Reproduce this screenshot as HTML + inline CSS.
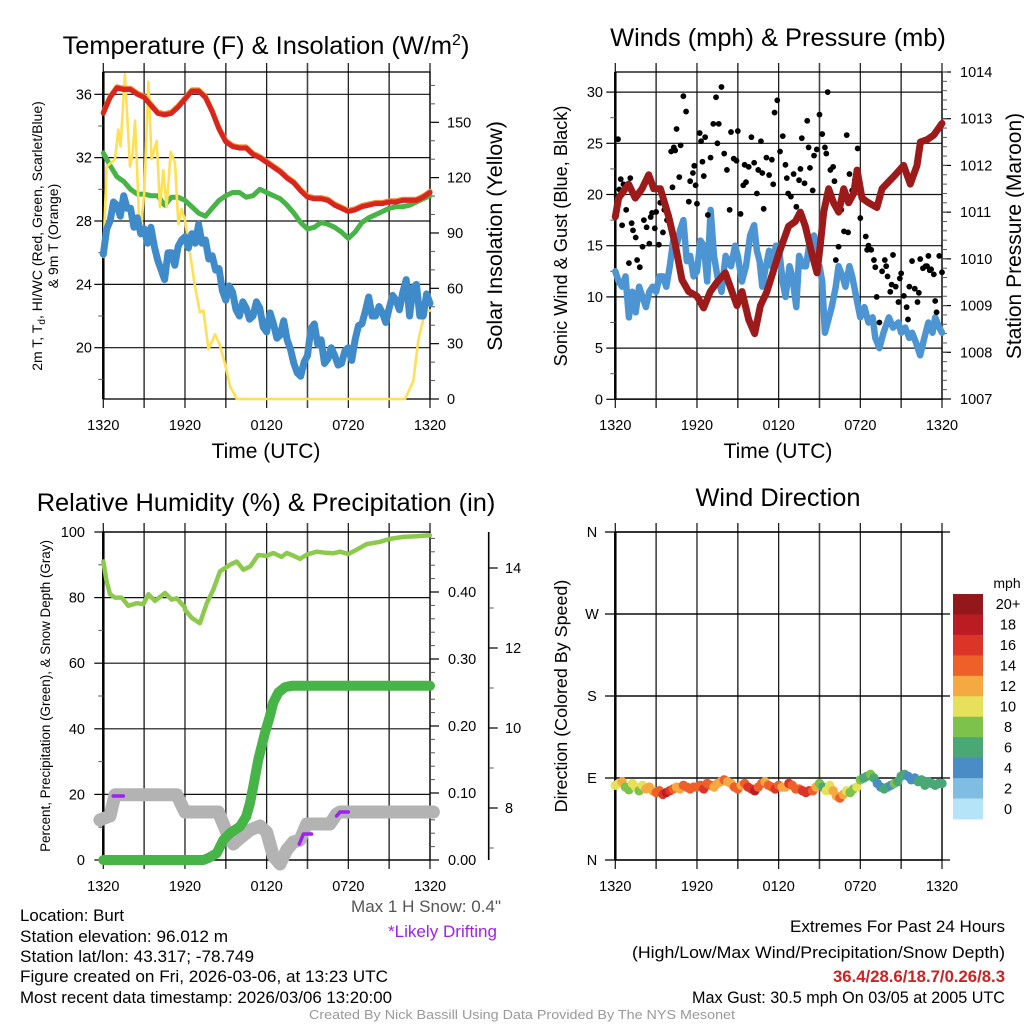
<!DOCTYPE html>
<html><head><meta charset="utf-8"><style>
body{margin:0;background:#fff}
svg{display:block;font-family:"Liberation Sans",Arial,sans-serif}
</style></head><body>
<svg id="s" width="1024" height="1024" viewBox="0 0 1024 1024" xmlns="http://www.w3.org/2000/svg">
<rect x="0" y="0" width="1024" height="1024" fill="#fff"/>
<g id="layer"></g>
<text x="266" y="54" font-size="25.4" text-anchor="middle">Temperature (F) &amp; Insolation (W/m<tspan dy="-9" font-size="16">2</tspan><tspan dy="9">)</tspan></text>
<text x="778" y="46" font-size="25.4" text-anchor="middle">Winds (mph) &amp; Pressure (mb)</text>
<text x="266" y="511" font-size="25.4" text-anchor="middle">Relative Humidity (%) &amp; Precipitation (in)</text>
<text x="778" y="506" font-size="25.4" text-anchor="middle">Wind Direction</text>
<text x="266" y="458" font-size="21" text-anchor="middle">Time (UTC)</text>
<text x="778" y="458" font-size="21" text-anchor="middle">Time (UTC)</text>
<text transform="translate(42,236) rotate(-90)" font-size="14" text-anchor="middle">2m T, T<tspan dy="3" font-size="10">d</tspan><tspan dy="-3">, HI/WC (Red, Green, Scarlet/Blue)</tspan></text>
<text transform="translate(58,236) rotate(-90)" font-size="14" text-anchor="middle">&amp; 9m T (Orange)</text>
<text transform="translate(502,236) rotate(-90)" font-size="21.5" text-anchor="middle">Solar Insolation (Yellow)</text>
<text transform="translate(567,236) rotate(-90)" font-size="18.2" text-anchor="middle">Sonic Wind &amp; Gust (Blue, Black)</text>
<text transform="translate(1021,236) rotate(-90)" font-size="21" text-anchor="middle">Station Pressure (Maroon)</text>
<text transform="translate(50,696) rotate(-90)" font-size="13.4" text-anchor="middle">Percent, Precipitation (Green), &amp; Snow Depth (Gray)</text>
<text transform="translate(567,696) rotate(-90)" font-size="17.9" text-anchor="middle">Direction (Colored By Speed)</text>
<text x="1007" y="588" font-size="14" text-anchor="middle">mph</text>
<g font-size="16.5">
<text x="20" y="921" textLength="104" lengthAdjust="spacingAndGlyphs">Location: Burt</text>
<text x="20" y="942" textLength="208" lengthAdjust="spacingAndGlyphs">Station elevation: 96.012 m</text>
<text x="20" y="962" textLength="234" lengthAdjust="spacingAndGlyphs">Station lat/lon: 43.317; -78.749</text>
<text x="20" y="982" textLength="368" lengthAdjust="spacingAndGlyphs">Figure created on Fri, 2026-03-06, at 13:23 UTC</text>
<text x="20" y="1003" textLength="372" lengthAdjust="spacingAndGlyphs">Most recent data timestamp: 2026/03/06 13:20:00</text>
</g>
<text x="351" y="912" font-size="16.5" fill="#555" textLength="150" lengthAdjust="spacingAndGlyphs">Max 1 H Snow: 0.4"</text>
<text x="388" y="937" font-size="16.5" fill="#a020f0" textLength="109" lengthAdjust="spacingAndGlyphs">*Likely Drifting</text>
<g font-size="17">
<text x="790" y="932" textLength="215" lengthAdjust="spacingAndGlyphs">Extremes For Past 24 Hours</text>
<text x="632" y="958" textLength="373" lengthAdjust="spacingAndGlyphs">(High/Low/Max Wind/Precipitation/Snow Depth)</text>
<text x="833" y="982" fill="#cc2222" font-weight="bold" textLength="172" lengthAdjust="spacingAndGlyphs">36.4/28.6/18.7/0.26/8.3</text>
<text x="692" y="1003" textLength="313" lengthAdjust="spacingAndGlyphs">Max Gust: 30.5 mph On 03/05 at 2005 UTC</text>
</g>
<text x="309" y="1019" font-size="13" fill="#999" textLength="426" lengthAdjust="spacingAndGlyphs">Created By Nick Bassill Using Data Provided By The NYS Mesonet</text>
</svg>
<script>
// ---------- data ----------
const timeLabels = ["1320","1920","0120","0720","1320"];
const halfHours = [0,0.5,1,1.5,2,2.5,3,3.5,4,4.5,5,5.5,6,6.5,7,7.5,8,8.5,9,9.5,10,10.5,11,11.5,12,12.5,13,13.5,14,14.5,15,15.5,16,16.5,17,17.5,18,18.5,19,19.5,20,20.5,21,21.5,22,22.5,23,23.5,24];
const tempRed = [34.8,35.8,36.4,36.3,36.3,36.0,35.8,35.3,34.8,34.7,34.8,35.2,35.7,36.2,36.2,35.8,34.9,33.8,33.0,32.7,32.6,32.6,32.2,32.0,31.7,31.4,31.1,30.7,30.4,29.9,29.5,29.4,29.4,29.3,29.0,28.8,28.6,28.7,28.9,29.0,29.1,29.1,29.2,29.2,29.3,29.3,29.3,29.5,29.8];
const dewGreen = [32.3,31.5,30.8,30.5,30.0,29.7,29.7,29.6,29.6,29.0,29.5,29.5,29.3,28.9,28.5,28.3,28.8,29.3,29.6,29.8,29.8,29.5,29.6,30.0,29.8,29.6,29.4,29.0,28.5,27.9,27.5,27.6,27.9,27.8,27.6,27.3,26.9,27.3,27.9,28.2,28.4,28.6,28.8,28.9,28.9,29.0,29.2,29.4,29.6];
const chillT = [0,0.25,0.5,0.75,1,1.25,1.5,1.75,2,2.25,2.5,2.75,3,3.25,3.5,3.75,4,4.25,4.5,4.75,5,5.25,5.5,5.75,6,6.25,6.5,6.75,7,7.25,7.5,7.75,8,8.25,8.5,8.75,9,9.25,9.5,9.75,10,10.25,10.5,10.75,11,11.25,11.5,11.75,12,12.25,12.5,12.75,13,13.25,13.5,13.75,14,14.25,14.5,14.75,15,15.25,15.5,15.75,16,16.25,16.5,16.75,17,17.25,17.5,17.75,18,18.25,18.5,18.75,19,19.25,19.5,19.75,20,20.25,20.5,20.75,21,21.25,21.5,21.75,22,22.25,22.5,22.75,23,23.25,23.5,23.75,24];
const chillBlue = [25.9,27.5,28.0,29.2,29.0,28.3,29.6,28.8,28.8,27.6,28.2,27.2,27.5,26.6,27.6,26.4,25.5,24.9,24.3,26.0,26.0,25.2,26.4,26.8,27.0,26.3,27.2,26.6,27.8,26.6,26.8,25.6,25.8,24.9,25.0,23.6,23.0,23.9,23.5,22.4,22.0,22.9,22.5,21.8,22.0,22.9,22.5,21.3,21.0,22.2,21.5,20.6,20.8,21.7,20.5,19.9,19.0,18.4,18.2,19.1,19.5,21.2,21.5,20.2,20.5,19.0,19.3,20.0,19.5,18.9,19.0,19.8,20.0,19.2,20.5,21.4,21.5,22.3,23.2,22.0,22.0,22.6,22.2,21.6,22.5,23.3,23.0,22.4,23.5,24.3,22.0,23.8,24.0,22.0,22.0,23.4,22.8];
const solarT = [0,0.24,0.86,1.10,1.27,1.59,1.96,2.16,2.33,2.69,3.01,3.31,3.55,3.92,4.16,4.41,4.65,4.95,5.27,5.51,5.76,6.0,6.37,6.74,7.10,7.35,7.72,8.21,8.57,8.94,9.31,9.8,22.17,22.78,23.14,23.63,24];
const solarV = [77,126,130,146,137,176,126,133,151,88,112,172,130,140,104,124,104,134,128,95,103,97,79,61,47,48,27,35,29,19,7,0,0,10,32,47,48];
const windT = [0,0.25,0.5,0.75,1,1.25,1.5,1.75,2,2.25,2.5,2.75,3,3.25,3.5,3.75,4,4.25,4.5,4.75,5,5.25,5.5,5.75,6,6.25,6.5,6.75,7,7.25,7.5,7.8,8.1,8.5,8.8,9,9.3,9.6,9.9,10.2,10.4,10.6,10.8,11,11.3,11.5,11.8,12,12.3,12.5,12.8,13,13.3,13.5,13.8,14,14.3,14.6,14.8,15,15.2,15.4,15.7,15.9,16.2,16.4,16.7,16.9,17.2,17.4,17.7,18,18.3,18.6,18.9,19.1,19.4,19.7,20.1,20.4,20.8,21.0,21.3,21.6,21.8,22.1,22.4,22.7,23,23.3,23.5,23.8,24];
const windV = [12.5,11.5,11,12,8,10.5,8.5,11,10,9,10.5,11,10.5,12,12,11,13,15.5,15,16.5,17.5,13.5,14,12,12.5,15.5,15,11.5,18.5,14,12,10.5,14,13,15,14,11.5,13,16,17,14.5,13.5,11,12.5,14.5,13,15,15,11.5,10,13,12,9,14,13,13,15.5,16,13,13,11.5,6.5,8,9,11,13,12,11,13,12,10,8,9,7.5,8,6,5,6.5,8,7,7.5,6.5,7,6,6.5,5.5,4.3,6,7.5,6.5,8,7,6.5];
const presT = [0,0.24,0.98,1.47,1.96,2.45,2.82,3.31,3.92,4.41,4.9,5.39,6.0,6.49,6.98,7.47,8.08,8.45,8.94,9.31,9.8,10.24,10.66,11.14,12.0,12.73,13.22,13.59,13.96,14.45,14.82,15.06,15.31,15.67,16.04,16.41,16.78,17.14,17.51,17.76,18.12,18.61,19.22,19.59,20.08,20.57,21.18,21.67,22.16,22.41,22.9,23.39,23.76,24];
const presV = [1010.9,1011.3,1011.6,1011.3,1011.5,1011.8,1011.5,1011.5,1010.9,1010.3,1009.55,1009.3,1009.2,1008.95,1009.3,1009.5,1009.7,1009.4,1009.0,1009.3,1008.7,1008.4,1009.0,1009.3,1010.1,1010.7,1010.8,1011.0,1010.7,1010.1,1009.7,1010.3,1011.0,1011.5,1011.2,1011.0,1011.5,1011.2,1011.4,1011.9,1011.3,1011.2,1011.1,1011.5,1011.65,1011.8,1012.0,1011.6,1012.0,1012.5,1012.55,1012.65,1012.8,1012.9];
const gustT = [0.1,0.2,0.4,0.5,0.6,0.8,1.0,1.1,1.3,1.5,1.6,1.8,2.0,2.1,2.3,2.5,2.7,2.9,3.0,3.2,3.3,3.5,3.6,3.8,3.9,4.1,4.2,4.4,4.5,4.7,4.8,5.0,5.2,5.4,5.5,5.7,5.9,6.0,6.2,6.3,6.5,6.6,6.8,7.0,7.2,7.4,7.5,7.8,8.0,8.2,8.4,8.5,8.7,9.0,9.2,9.4,9.6,9.8,10.0,10.2,10.4,10.5,10.7,10.9,11.1,11.3,11.5,11.7,11.9,12.1,12.3,12.5,12.7,12.9,13.1,13.3,13.5,13.7,13.9,14.1,14.3,14.5,14.6,14.8,15.0,15.2,15.4,15.6,15.8,16.0,16.2,16.4,16.6,16.8,17.0,17.2,17.4,17.6,17.8,18.0,18.2,18.4,18.6,18.8,19.0,19.2,19.4,19.6,19.8,20.0,20.2,20.4,20.6,20.8,21.0,21.2,21.4,21.6,21.8,22.0,22.2,22.4,22.6,22.8,23.0,23.2,23.4,23.6,23.8,24.0,19.1,20.3,21.5,22.9,23.5,0.3,1.2,2.6,4.3,5.8,6.4,7.6,8.9,9.5,10.8,11.6,12.6,13.6,14.2,15.5,16.1,17.1,18.5,19.9,20.9,22.3,23.1];
const gustV = [19.8,25.4,21.5,17,21,18.5,13.3,21.6,16.5,15.8,13.6,12.9,14.9,17.5,16.8,15.2,18.2,16.7,18.3,15.1,19.2,16.3,18.5,17.5,18.1,24.2,20.7,24.3,26.4,21.7,24.8,29.6,28.1,19.3,21.3,22.1,20.9,19.1,26.0,25.2,21.8,25.6,18.0,23.6,26.9,29.5,25.0,30.5,24.0,22.4,18.5,26.1,23.5,26.2,18.1,20.9,21.2,22.7,25.6,23.1,20.1,22.4,25.2,18.6,23.6,21.9,23.4,28.0,29.2,24.2,25.7,22.9,20.1,19.8,22.0,18.8,21.4,25.5,21.1,27.2,22.6,20.4,23.8,24.4,27.8,25.9,24.6,30.0,22.4,22.7,13.6,14.9,18.5,16.4,25.8,22.0,20.4,21.4,24.5,17.7,19.5,15.9,15.0,14.6,13.6,10.0,7.5,12.5,13.6,12.0,10.5,14.1,11.0,9.5,12.3,10.1,9.0,11.0,13.5,10.8,9.5,13.7,12.8,13.0,14.0,12.7,12.2,8.5,14.0,12.4,12.9,11.2,7.8,13.0,9.6,20.5,17.2,17.8,24.6,22.8,23.2,26.9,23.3,22.9,22.1,21.0,21.6,22.5,24.6,24.0,21.3,16.3,14.6,13.0,11.8,10.4,12.6];
const rhT = [0,0.24,0.49,0.86,1.35,1.84,2.45,2.94,3.31,3.8,4.53,5.02,5.39,5.99,6.00,6.5,7.1,7.6,8.08,8.57,9.31,9.8,10.29,10.8,11.38,12.0,12.49,13.1,13.47,13.96,14.45,14.94,15.67,16.29,16.9,17.39,18.0,18.61,19.35,20.33,21.06,22.04,23.02,24];
const rhV = [91,85,81,80,80,77.5,78.3,78,81,79,81.4,79.4,79.8,77,76.3,73.8,72.2,78.3,82.4,88,90,91,88.5,89.5,93,92.7,93.6,92.4,93.6,92.8,91.8,93.1,94,93.7,93.5,94,93.3,94.6,96.3,97,97.9,98.5,98.7,99];
const precipT = [0,7.35,7.72,8.33,8.82,9.31,10.04,10.5,10.78,11.02,11.39,11.88,12.24,12.49,12.86,13.35,13.84,14.57,15.06,24];
const precipV = [0,0,0.003,0.01,0.03,0.04,0.05,0.065,0.085,0.11,0.15,0.19,0.215,0.235,0.25,0.258,0.26,0.26,0.26,0.26];
const snowT = [-0.25,0.49,0.86,5.39,6.0,8.45,9.06,9.55,10.04,10.78,11.51,12.0,12.49,12.98,13.47,13.96,14.45,14.94,16.65,17.14,17.39,24.25];
const snowV = [7.7,7.8,8.33,8.33,7.9,7.9,7.4,7.1,7.25,7.45,7.55,7.4,6.8,6.6,6.95,7.15,7.2,7.6,7.6,7.85,7.9,7.9];
const driftSeg1T = [0.73,1.47], driftSeg1V = [8.3,8.3];
const driftSeg2T = [14.4,14.7,15.3], driftSeg2V = [7.1,7.35,7.35];
const driftSeg3T = [17.14,17.39,18.0], driftSeg3V = [7.8,7.9,7.9];
const dirT = [0,0.25,0.5,0.75,1,1.25,1.5,1.75,2,2.25,2.5,2.75,3,3.25,3.5,3.75,4,4.25,4.5,4.75,5,5.25,5.5,5.75,6,6.25,6.5,6.75,7,7.25,7.5,7.75,8,8.25,8.5,8.75,9,9.25,9.5,9.75,10,10.25,10.5,10.75,11,11.25,11.5,11.75,12,12.25,12.5,12.75,13,13.25,13.5,13.75,14,14.25,14.5,14.75,15,15.25,15.5,15.75,16,16.25,16.5,16.75,17,17.25,17.5,17.75,18,18.25,18.5,18.75,19,19.25,19.5,19.75,20,20.25,20.5,20.75,21,21.25,21.5,21.75,22,22.25,22.5,22.75,23,23.25,23.5,23.75,24];
const dirV = [82,84,86,80,77,84,80,76,82,78,80,76,74,76,72,74,76,78,80,78,82,80,78,80,80,82,78,84,82,80,84,86,88,86,84,80,78,82,84,80,78,76,80,84,86,82,80,78,82,80,80,84,82,78,78,76,74,76,76,80,84,80,76,82,76,70,68,72,76,74,78,80,88,90,92,94,90,84,80,78,80,82,84,86,92,94,92,88,90,86,88,82,86,84,82,84,84];
const dirSpeed = [11,10,12,9,8,10,11,9,10,12,13,12,14,15,17,18,16,14,13,12,14,15,14,15,14,15,17,15,14,13,12,13,14,13,12,14,15,13,14,16,17,18,15,14,13,15,14,16,14,13,12,16,15,14,15,17,17,16,15,12,8,7,10,11,13,12,14,12,10,9,8,10,8,7,7,8,6,5,4,7,6,5,8,7,6,6,5,4,5,6,7,6,7,6,6,7,7];
const cbLabels = ["20+","18","16","14","12","10","8","6","4","2","0"];
const cbColors = ["#94181b","#bb1c24","#dd3428","#ef5f2a","#f7a941","#e6e05a","#7dc24a","#4aa874","#4a8cc4","#80bde3","#b5e3f7"];

// ---------- helpers ----------
const NS="http://www.w3.org/2000/svg";
const layer=document.getElementById('layer');
function el(tag,attrs,parent){const e=document.createElementNS(NS,tag);for(const k in attrs)e.setAttribute(k,attrs[k]);(parent||layer).appendChild(e);return e;}
const TL={x0:103.3,x1:430,y0:72,y1:399}, TR={x0:615.3,x1:942,y0:72,y1:399};
const BL={x0:103.3,x1:430,y0:532,y1:860}, BR={x0:615.3,x1:942,y0:532,y1:860};
function xScale(p){return h=>p.x0+h*(p.x1-p.x0)/24;}
function linScale(v0,p0,v1,p1){return v=>p0+(v-v0)*(p1-p0)/(v1-v0);}
function pts(xs,ys,T,V){return T.map((t,i)=>xs(t).toFixed(1)+","+ys(V[i]).toFixed(1)).join(" ");}
function line(xs,ys,T,V,color,w,name){
  const e=el('polyline',{points:pts(xs,ys,T,V),fill:'none',stroke:color,'stroke-width':w,'stroke-linejoin':'round','stroke-linecap':'round'});
  
  
  return e;
}
function frame(p,name,hGrid,ys){
  const g=el('g',{});
  
  
  const xs=xScale(p);
  for(let i=0;i<=8;i++){
    const x=xs(i*3);
    const v=el('line',{x1:x,x2:x,y1:p.y0-9,y2:p.y1+9,stroke:(i%2?'#444':'#111'),'stroke-width':i%2?1.6:1.2},g);
    
    
  }
  hGrid.forEach(val=>{const y=ys(val);const h=el('line',{x1:p.x0,x2:p.x1,y1:y,y2:y,stroke:'#111','stroke-width':1.2},g);
    
    });
  const b=el('rect',{x:p.x0,y:p.y0,width:p.x1-p.x0,height:p.y1-p.y0,fill:'none',stroke:'#000','stroke-width':1.3},g);
  
  
  el('line',{x1:p.x0,x2:p.x0,y1:p.y0,y2:p.y1,stroke:'#000','stroke-width':2.5},g);
  timeLabels.forEach((s,i)=>{const t=el('text',{x:xs(i*6),y:p.y1+31,'font-size':14.5,'text-anchor':'middle'},g);t.textContent=s;
    
    });
  return g;
}
function ticks(x,ys,majors,minors,side,labels,fs,lx,anchor,name){
  const g=el('g',{});
  
  
  const d=side==='left'?-9:9;
  majors.forEach((v,i)=>{el('line',{x1:x,x2:x+d,y1:ys(v),y2:ys(v),stroke:'#000','stroke-width':1.2},g);
    const t=el('text',{x:lx,y:ys(v)+5,'font-size':fs,'text-anchor':anchor},g);t.textContent=labels[i];
    
    });
  minors.forEach(v=>el('line',{x1:x,x2:x+d*0.55,y1:ys(v),y2:ys(v),stroke:'#555','stroke-width':1},g));
}
function range(a,b,s){const r=[];for(let v=a;v<=b+1e-9;v+=s)r.push(+v.toFixed(4));return r;}

// ---------- top-left ----------
{
  const xs=xScale(TL), yT=linScale(20,347.7,36,94.3), yS=linScale(0,399,150,122.3);
  const tMaj=[20,24,28,32,36], sMaj=[0,30,60,90,120,150];
  frame(TL,'temperature-panel',tMaj,yT);
  ticks(TL.x0,yT,tMaj,[18,22,26,30,34],'left',tMaj.map(String),14.5,92,'end','temp-left-axis');
  ticks(TL.x1,yS,sMaj,range(10,170,10).filter(v=>v%30),'right',sMaj.map(String),14.5,447,'start','solar-right-axis');
  line(xs,yT,halfHours,dewGreen,'#46b446',5,'dewpoint-line');
  line(xs,yS,solarT,solarV,'#ffe055',2.6,'insolation-line');
  line(xs,yT,chillT,chillBlue,'#3f8bc9',7,'windchill-line');
  line(xs,v=>yT(v)-1.2,halfHours,tempRed,'#f08a30',5,'temp-9m-line');
  line(xs,yT,halfHours,tempRed,'#d8261f',5,'temp-2m-line');
}
// ---------- top-right ----------
{
  const xs=xScale(TR), yW=linScale(0,399.3,30,92.1), yP=linScale(1007,399,1014,72);
  const wMaj=[0,5,10,15,20,25,30], pMaj=range(1007,1014,1);
  frame(TR,'winds-panel',wMaj,yW);
  ticks(TR.x0,yW,wMaj,range(2.5,30,5),'left',wMaj.map(String),14.5,603,'end','wind-left-axis');
  ticks(TR.x1,yP,pMaj,range(1007.2,1014,0.2),'right',pMaj.map(String),14.5,960,'start','pressure-right-axis');
  line(xs,yW,windT,windV,'#4d95d2',6.5,'wind-speed-line');
  const g=el('g',{});
  
  
  gustT.forEach((t,i)=>{const c=el('circle',{cx:xs(t),cy:yW(gustV[i]),r:2.9,fill:'#000'},g);
    
    });
  line(xs,yP,presT,presV,'#9c1a1a',7,'pressure-line');
}
// ---------- bottom-left ----------
{
  const xs=xScale(BL), yR=linScale(0,860,100,532), yPr=linScale(0,860,0.1,793), ySn=linScale(8,808,10,728);
  const rMaj=[0,20,40,60,80,100], prMaj=[0,0.1,0.2,0.3,0.4], snMaj=[8,10,12,14];
  frame(BL,'humidity-panel',rMaj,yR);
  ticks(BL.x0,yR,rMaj,[10,30,50,70,90],'left',rMaj.map(String),14.5,85,'end','percent-left-axis');
  ticks(BL.x1,yPr,prMaj,range(0.02,0.48,0.02).filter(v=>Math.round(v*100)%10),'right',prMaj.map(v=>v.toFixed(2)),14.5,448,'start','precip-right-axis');
  el('line',{x1:488.7,x2:488.7,y1:532,y2:860,stroke:'#000','stroke-width':1.6});
  ticks(488.7,ySn,snMaj,[7,9,11,13],'right',snMaj.map(String),14.5,505,'start','snow-depth-axis');
  line(xs,ySn,snowT,snowV,'#b3b3b3',13,'snow-depth-line');
  line(xs,ySn,driftSeg1T,driftSeg1V,'#a020f0',3.5,'drifting-segment');
  line(xs,ySn,driftSeg2T,driftSeg2V,'#a020f0',3.5,'drifting-segment');
  line(xs,ySn,driftSeg3T,driftSeg3V,'#a020f0',3.5,'drifting-segment');
  line(xs,yPr,precipT,precipV,'#46b446',10,'precip-line');
  line(xs,yR,rhT,rhV,'#8dc94c',4.5,'humidity-line');
}
// ---------- bottom-right ----------
{
  const xs=xScale(BR), yD=linScale(0,860,360,532);
  const dMaj=[0,90,180,270,360], dLab=["N","E","S","W","N"];
  frame(BR,'direction-panel',dMaj,yD);
  const g0=el('g',{});
  
  
  dMaj.forEach((v,i)=>{el('line',{x1:605,x2:950,y1:yD(v),y2:yD(v),stroke:'#000','stroke-width':1.2},g0);
    const t=el('text',{x:592,y:yD(v)+5,'font-size':14.5,'text-anchor':'middle'},g0);t.textContent=dLab[i];
    
    });
  const g=el('g',{});
  
  
  dirT.forEach((t,i)=>{const ci=10-Math.min(10,Math.floor(dirSpeed[i]/2));
    const c=el('circle',{cx:xs(t),cy:yD(dirV[i]),r:4.7,fill:cbColors[ci]},g);
    
    });
  const cb=el('g',{});
  
  
  const h=(819-594)/cbColors.length;
  cbColors.forEach((c,i)=>{const r=el('rect',{x:953,y:594+i*h,width:30,height:h+0.4,fill:c},cb);
    
    
    const t=el('text',{x:1008,y:594+i*h+h/2+5,'font-size':14.5,'text-anchor':'middle'},cb);t.textContent=cbLabels[i];
    
    });
}
</script>
</body></html>
